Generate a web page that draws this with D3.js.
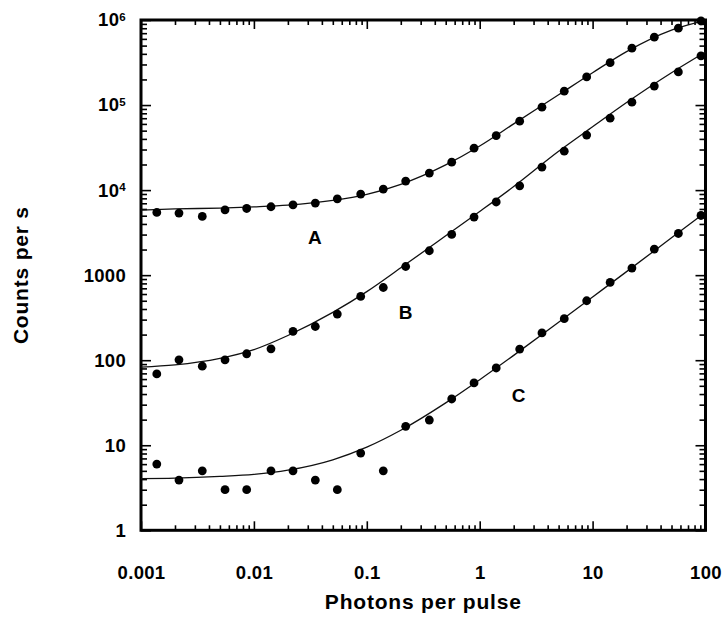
<!DOCTYPE html>
<html>
<head>
<meta charset="utf-8">
<script src="https://cdn.jsdelivr.net/npm/d3@7"></script>
<style>
  body { margin: 0; background: #fff; }
  svg text { font-family: "Liberation Sans", Arial, sans-serif; font-weight: bold; fill: #000; }
</style>
</head>
<body>
<svg id="chart"></svg>
<script>
// photons per pulse for each measured point
let photons = [0.00138, 0.00217, 0.00349, 0.00555, 0.00863, 0.01417, 0.0222, 0.0350, 0.0548, 0.0883,
  0.140, 0.221, 0.358, 0.565, 0.891, 1.40, 2.26, 3.56, 5.61, 8.86, 14.3, 22.3, 35.2, 57.5, 91.2];

let countsA = [5460, 5370, 4900, 5870, 6080, 6370, 6720, 7040, 7900, 8980, 10280, 12760, 15840,
  21300, 31100, 43800, 64700, 94500, 145600, 214000, 315000, 466000, 628000, 801000, 975000];
let countsB = [69, 101, 85, 101, 119, 136, 218, 249, 349, 562, 716, 1264, 1936,
  3010, 4820, 7250, 11240, 18640, 28700, 44300, 70100, 108000, 167000, 245000, 378000];
let countsC = [6.0, 3.9, 5.0, 3.0, 3.0, 5.0, 5.0, 3.9, 3.0, 8.1, 5.0, 16.7, 19.8,
  35.0, 54.0, 81.0, 135, 209, 308, 500, 821, 1211, 2026, 3090, 5030];

// fitted curves
let fitX = [0.001, 0.002, 0.005, 0.01, 0.02, 0.05, 0.1, 0.2, 0.5, 1, 2, 5, 10, 20, 50, 100];
let fitA = [5800, 6000, 6150, 6350, 6650, 7550, 8900, 11700, 19800, 33000, 60000, 132000, 240000, 425000, 760000, 990000];
let fitB = [83, 88, 105, 133, 195, 365, 640, 1220, 2900, 5600, 11000, 28600, 55500, 107000, 240000, 420000];
let fitC = [4.05, 4.1, 4.3, 4.55, 5.1, 6.75, 9.5, 15, 31.5, 59, 114, 279, 554, 1100, 2750, 5500];

let curveNames = ["A", "B", "C"];
let curveLabelX = [0.0347, 0.221, 2.21];
let curveLabelY = [2750, 366, 38.8];

let xTicks = [0.001, 0.01, 0.1, 1, 10, 100];
let xTickLabels = ["0.001", "0.01", "0.1", "1", "10", "100"];
let yTicks = [1, 10, 100, 1000, 1e4, 1e5, 1e6];
let yTickLabels = ["1", "10", "100", "1000", "10|4", "10|5", "10|6"];

let xTitle = "Photons per pulse";
let yTitle = "Counts per s";

function getConfig() {
  let width = 722;
  let height = 621;
  let margin = { top: 20, bottom: 90.7, left: 141, right: 16.5 };
  let bodyWidth = width - margin.left - margin.right;
  let bodyHeight = height - margin.top - margin.bottom;
  let container = d3.select("#chart").attr("width", width).attr("height", height);
  return { width, height, margin, bodyWidth, bodyHeight, container };
}

function getScales(config) {
  let x = d3.scaleLog().domain([0.001, 100]).range([0, config.bodyWidth]);
  let y = d3.scaleLog().domain([1, 1e6]).range([config.bodyHeight, 0]);
  return { x, y };
}

function minorTicks(majors) {
  let out = [];
  majors.slice(0, -1).forEach(m => {
    for (let k = 2; k <= 9; k++) out.push(m * k);
  });
  return out;
}

function drawAxes(config, scales) {
  let { container, margin, bodyWidth, bodyHeight } = config;
  let { x, y } = scales;
  let body = container.append("g").attr("transform", `translate(${margin.left},${margin.top})`);

  let sides = [
    { axis: d3.axisBottom(x), ty: bodyHeight, tx: 0, ticks: xTicks, maj: 9, min: 5 },
    { axis: d3.axisTop(x), ty: 0, tx: 0, ticks: xTicks, maj: 9, min: 5 },
    { axis: d3.axisLeft(y), ty: 0, tx: 0, ticks: yTicks, maj: 10, min: 6 },
    { axis: d3.axisRight(y), ty: 0, tx: bodyWidth, ticks: yTicks, maj: 10, min: 6 }
  ];
  sides.forEach(s => {
    let gMaj = body.append("g")
      .attr("transform", `translate(${s.tx},${s.ty})`)
      .call(s.axis.tickValues(s.ticks).tickSize(-s.maj).tickFormat("").tickSizeOuter(0));
    gMaj.select(".domain").remove();
    let gMin = body.append("g")
      .attr("transform", `translate(${s.tx},${s.ty})`)
      .call(s.axis.tickValues(minorTicks(s.ticks)).tickSize(-s.min).tickFormat("").tickSizeOuter(0));
    gMin.select(".domain").remove();
    body.selectAll(".tick line").attr("stroke", "#000").attr("stroke-width", 1.6);
  });

  // tick labels
  let xl = body.append("g")
    .attr("transform", `translate(0,${bodyHeight})`)
    .call(d3.axisBottom(x).tickValues(xTicks).tickSize(0).tickPadding(36)
      .tickFormat((d, i) => xTickLabels[i]));
  xl.select(".domain").remove();
  xl.selectAll("text").style("font-size", "18.5px").style("letter-spacing", "0.3px");

  let yl = body.append("g")
    .call(d3.axisLeft(y).tickValues(yTicks).tickSize(0).tickPadding(15).tickFormat(""));
  yl.select(".domain").remove();
  yl.selectAll(".tick text").each(function(d, i) {
    let t = d3.select(this).style("font-size", "18.5px").style("letter-spacing", "0.3px");
    let parts = yTickLabels[i].split("|");
    t.append("tspan").text(parts[0]);
    if (parts.length > 1) {
      t.append("tspan").text(parts[1]).attr("dy", "-0.5em").style("font-size", "11.5px");
    }
  });

  // frame
  body.append("rect")
    .attr("x", 0).attr("y", 0)
    .attr("width", bodyWidth).attr("height", bodyHeight)
    .attr("fill", "none").attr("stroke", "#000").attr("stroke-width", 3);

  // titles
  container.append("text")
    .attr("x", margin.left + bodyWidth / 2).attr("y", 609)
    .attr("text-anchor", "middle").style("font-size", "21px").style("letter-spacing", "0.8px")
    .text(xTitle);
  container.append("text")
    .attr("transform", `translate(28,${margin.top + bodyHeight / 2}) rotate(-90)`)
    .attr("text-anchor", "middle").style("font-size", "21px").style("letter-spacing", "0.8px")
    .text(yTitle);

  return body;
}

function drawData(body, scales) {
  let { x, y } = scales;
  let fits = [fitA, fitB, fitC];
  let series = [countsA, countsB, countsC];

  let line = d3.line()
    .x(d => x(d[0]))
    .y(d => y(d[1]))
    .curve(d3.curveMonotoneX);

  body.selectAll("path.fit")
    .data(fits)
    .enter()
    .append("path")
    .attr("class", "fit")
    .attr("d", f => line(fitX.map((v, i) => [v, f[i]])))
    .attr("fill", "none")
    .attr("stroke", "#111")
    .attr("stroke-width", 1.3);

  series.forEach(s => {
    body.append("g")
      .selectAll("circle")
      .data(photons.map((v, i) => [v, s[i]]))
      .enter()
      .append("circle")
      .attr("cx", d => x(d[0]))
      .attr("cy", d => y(d[1]))
      .attr("r", 4.4)
      .attr("fill", "#000");
  });

  body.selectAll("text.curve-label")
    .data(curveNames)
    .enter()
    .append("text")
    .attr("class", "curve-label")
    .attr("x", (d, i) => x(curveLabelX[i]))
    .attr("y", (d, i) => y(curveLabelY[i]))
    .attr("dy", "0.35em")
    .attr("text-anchor", "middle")
    .style("font-size", "19px")
    .text(d => d);
}

let config = getConfig();
let scales = getScales(config);
let body = drawAxes(config, scales);
drawData(body, scales);
</script>
</body>
</html>
